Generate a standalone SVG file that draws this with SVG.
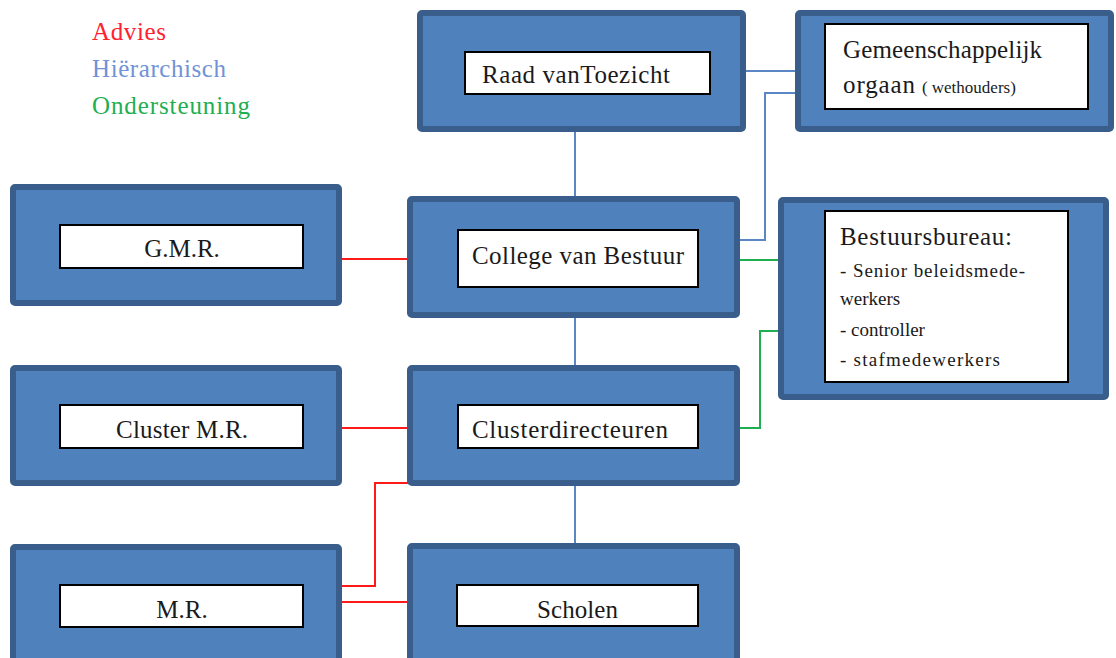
<svg xmlns="http://www.w3.org/2000/svg" width="1116" height="658" viewBox="0 0 1116 658">
<style>
.outer{fill:#4f81bd;stroke:#3a5e8c;stroke-width:6}
.inner{fill:#ffffff;stroke:#000000;stroke-width:2}
.t{font-family:"Liberation Serif","DejaVu Serif",serif;font-size:25px;fill:#1a1a1a}
.s{font-family:"Liberation Serif","DejaVu Serif",serif;font-size:19px;fill:#1a1a1a}
.lg{font-family:"Liberation Serif","DejaVu Serif",serif;font-size:25px}
.blue{fill:none;stroke:#5b87c5;stroke-width:2}
.red{fill:none;stroke:#ff1a1a;stroke-width:2}
.green{fill:none;stroke:#1fae50;stroke-width:2}
</style>
<rect width="1116" height="658" fill="#ffffff"/>
<g id="legend">
<text class="lg" x="92" y="40" fill="#ff2030" textLength="74">Advies</text>
<text class="lg" x="92" y="77" fill="#6f93d6" textLength="134">Hiërarchisch</text>
<text class="lg" x="92" y="114" fill="#1fae50" textLength="158">Ondersteuning</text>
</g>
<g id="connectors">
<path class="blue" d="M575 132 V197"/>
<path class="blue" d="M746 71 H795"/>
<path class="blue" d="M740 240 H765 V93 H795"/>
<path class="blue" d="M575 318 V365"/>
<path class="blue" d="M575 486 V544"/>
<path class="red" d="M342 259 H415"/>
<path class="red" d="M342 428 H410"/>
<path class="red" d="M342 586 H375 V483 H410"/>
<path class="red" d="M342 602 H416"/>
<path class="green" d="M740 260 H778"/>
<path class="green" d="M740 428 H760 V331 H778"/>
</g>
<g id="raad">
<rect class="outer" x="420" y="13" width="323" height="116" rx="2"/>
<rect class="inner" x="465" y="52" width="245" height="42"/>
<text class="t" x="482" y="83" textLength="188">Raad vanToezicht</text>
</g>
<g id="gemeenschappelijk">
<rect class="outer" x="798" y="13" width="313" height="116" rx="2"/>
<rect class="inner" x="825" y="24" width="263" height="85"/>
<text class="t" x="843" y="58" textLength="199">Gemeenschappelijk</text>
<text class="t" x="843" y="93"><tspan textLength="72">orgaan</tspan><tspan dx="6" font-size="17">( wethouders)</tspan></text>
</g>
<g id="gmr">
<rect class="outer" x="13" y="187" width="326" height="116" rx="2"/>
<rect class="inner" x="60" y="225" width="243" height="43"/>
<text class="t" x="182" y="257" text-anchor="middle">G.M.R.</text>
</g>
<g id="college">
<rect class="outer" x="410" y="199" width="327" height="116" rx="2"/>
<rect class="inner" x="458" y="230" width="240" height="57"/>
<text class="t" x="472" y="264" textLength="212">College van Bestuur</text>
</g>
<g id="bestuursbureau">
<rect class="outer" x="781" y="200" width="325" height="197" rx="2"/>
<rect class="inner" x="825" y="211" width="243" height="171"/>
<text class="t" x="840" y="245" textLength="172">Bestuursbureau:</text>
<text class="s" x="840" y="277" textLength="185">- Senior beleidsmede-</text>
<text class="s" x="840" y="305">werkers</text>
<text class="s" x="840" y="336">- controller</text>
<text class="s" x="840" y="366" textLength="160">- stafmedewerkers</text>
</g>
<g id="clustermr">
<rect class="outer" x="13" y="368" width="326" height="115" rx="2"/>
<rect class="inner" x="60" y="405" width="243" height="43"/>
<text class="t" x="116" y="438" textLength="132">Cluster M.R.</text>
</g>
<g id="clusterdirecteuren">
<rect class="outer" x="410" y="368" width="327" height="115" rx="2"/>
<rect class="inner" x="458" y="405" width="240" height="43"/>
<text class="t" x="472" y="438" textLength="196">Clusterdirecteuren</text>
</g>
<g id="mr">
<rect class="outer" x="13" y="547" width="326" height="120" rx="2"/>
<rect class="inner" x="60" y="585" width="243" height="42"/>
<text class="t" x="182" y="618" text-anchor="middle">M.R.</text>
</g>
<g id="scholen">
<rect class="outer" x="410" y="546" width="327" height="120" rx="2"/>
<rect class="inner" x="457" y="585" width="241" height="41"/>
<text class="t" x="537" y="618" textLength="81">Scholen</text>
</g>
</svg>
